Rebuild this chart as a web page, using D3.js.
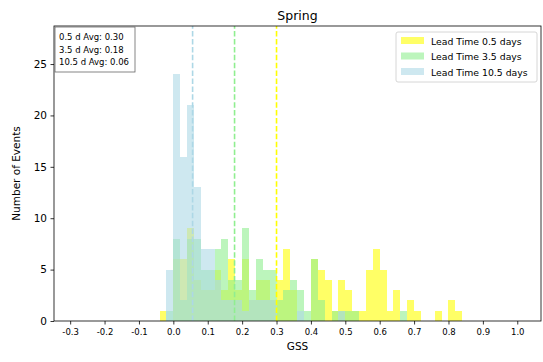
<!DOCTYPE html>
<html>
<head>
<meta charset="utf-8">
<script src="https://cdnjs.cloudflare.com/ajax/libs/d3/7.8.5/d3.min.js"></script>
<style>
  body { margin: 0; background: #fff; }
  text { font-family: "DejaVu Sans", sans-serif; }
</style>
</head>
<body>
<div class="chart"></div>
<script>
// left edge of each 0.02 wide bin
var binStarts = [-0.04, -0.02, 0.00, 0.02, 0.04, 0.06, 0.08, 0.10, 0.12, 0.14, 0.16,
  0.18, 0.20, 0.22, 0.24, 0.26, 0.28, 0.30, 0.32, 0.34, 0.36, 0.38, 0.40,
  0.42, 0.44, 0.46, 0.48, 0.50, 0.52, 0.54, 0.56, 0.58, 0.60, 0.62, 0.64,
  0.66, 0.68, 0.70, 0.72, 0.74, 0.76, 0.78, 0.80, 0.82];
var binWidth = 0.02;

var lead05 = [1, 0, 6, 6, 9, 4, 3, 3, 5, 3, 6, 3, 6, 2, 4, 4, 2, 4, 7, 3, 0, 0, 6,
  5, 4, 1, 4, 3, 1, 1, 5, 7, 5, 1, 3, 0, 2, 1, 0, 0, 1, 0, 2, 1];
var lead35 = [0, 1, 8, 2, 8, 8, 5, 5, 7, 8, 4, 4, 9, 3, 6, 5, 5, 2, 3, 4, 3, 1, 6,
  2, 0, 1, 1, 1, 1, 0, 0, 0, 0, 0, 0, 1, 0, 0, 0, 0, 0, 0, 0, 0];
var lead105 = [0, 5, 24, 16, 21, 13, 7, 7, 4, 2, 2, 2, 1, 2, 2, 2, 2, 0, 0, 0, 1, 0, 0,
  0, 0, 0, 1, 0, 0, 0, 0, 0, 0, 0, 0, 0, 0, 0, 0, 0, 0, 0, 0, 0];

var seriesNames = ["Lead Time 0.5 days", "Lead Time 3.5 days", "Lead Time 10.5 days"];
var avgLabels = ["0.5 d", "3.5 d", "10.5 d"];
var averages = [0.30, 0.178, 0.056];
var colors = ["#ffff00", "#90ee90", "#add8e6"];

var xTicks = [-0.3, -0.2, -0.1, 0.0, 0.1, 0.2, 0.3, 0.4, 0.5, 0.6, 0.7, 0.8, 0.9, 1.0];
var yTicks = [0, 5, 10, 15, 20, 25];

var width = 543, height = 362;
var margin = {left: 54, right: 2, top: 26, bottom: 41};

const svg = d3.select(".chart").append("svg")
  .attr("width", width)
  .attr("height", height);

var x = d3.scaleLinear()
  .domain([-0.347, 1.069])
  .range([margin.left, width - margin.right]);

var y = d3.scaleLinear()
  .domain([0, 28.7])
  .range([height - margin.bottom, margin.top]);

// histograms, drawn in order so the later ones sit on top
var allSeries = [lead05, lead35, lead105];
allSeries.forEach(function(counts, s) {
  svg.append("g").selectAll("rect")
    .data(counts)
    .enter().append("rect")
      .attr("x", function(d, i) { return x(binStarts[i]); })
      .attr("width", function(d, i) { return x(binStarts[i] + binWidth) - x(binStarts[i]); })
      .attr("y", function(d) { return y(d); })
      .attr("height", function(d) { return y(0) - y(d); })
      .attr("fill", colors[s])
      .attr("fill-opacity", 0.6)
      .attr("shape-rendering", "crispEdges");
});

// average lines
svg.append("g").selectAll("line")
  .data(averages)
  .enter().append("line")
    .attr("x1", function(d) { return x(d); })
    .attr("x2", function(d) { return x(d); })
    .attr("y1", y.range()[0])
    .attr("y2", y.range()[1])
    .attr("stroke", function(d, i) { return colors[i]; })
    .attr("stroke-width", 1.6)
    .attr("stroke-dasharray", "5.5,2.4");

// axes
var xAxis = d3.axisBottom(x).tickValues(xTicks).tickSize(3.5).tickPadding(4)
  .tickFormat(d3.format(".1f"));
var yAxis = d3.axisLeft(y).tickValues(yTicks).tickSize(3.5).tickPadding(3.5);

var gx = svg.append("g")
  .attr("transform", "translate(0," + (height - margin.bottom) + ")")
  .call(xAxis);
gx.selectAll("text").attr("font-size", 8.5).attr("fill", "#000")
  .text(function(d) { return d3.format(".1f")(d).replace("\u2212", "-"); });

var gy = svg.append("g")
  .attr("transform", "translate(" + margin.left + ",0)")
  .call(yAxis);
gy.selectAll("text").attr("font-size", 10.5).attr("fill", "#000");

[gx, gy].forEach(function(g) {
  g.select(".domain").remove();
  g.selectAll(".tick line").attr("stroke", "#000").attr("stroke-width", 0.8);
});

// frame
svg.append("rect")
  .attr("x", margin.left)
  .attr("y", margin.top)
  .attr("width", width - margin.left - margin.right)
  .attr("height", height - margin.top - margin.bottom)
  .attr("fill", "none")
  .attr("stroke", "#000")
  .attr("stroke-width", 0.8);

// title and labels
svg.append("text")
  .attr("x", (margin.left + width - margin.right) / 2)
  .attr("y", 20)
  .attr("text-anchor", "middle")
  .attr("font-size", 12.5)
  .text("Spring");

svg.append("text")
  .attr("x", (margin.left + width - margin.right) / 2)
  .attr("y", 350)
  .attr("text-anchor", "middle")
  .attr("font-size", 10.5)
  .text("GSS");

svg.append("text")
  .attr("transform", "translate(20," + ((margin.top + height - margin.bottom) / 2) + ") rotate(-90)")
  .attr("text-anchor", "middle")
  .attr("font-size", 10.5)
  .text("Number of Events");

// averages box
var avgBox = svg.append("g").attr("transform", "translate(55,27)");
avgBox.append("rect")
  .attr("width", 80)
  .attr("height", 45)
  .attr("fill", "#fff")
  .attr("stroke", "#666")
  .attr("stroke-width", 0.8);
avgBox.selectAll("text")
  .data(averages)
  .enter().append("text")
    .attr("x", 4)
    .attr("y", function(d, i) { return 13 + i * 12.5; })
    .attr("font-size", 8.5)
    .text(function(d, i) { return avgLabels[i] + " Avg: " + d.toFixed(2); });

// legend
var legend = svg.append("g").attr("transform", "translate(396,32)");
legend.append("rect")
  .attr("width", 141)
  .attr("height", 50)
  .attr("rx", 2)
  .attr("fill", "#fff")
  .attr("fill-opacity", 0.8)
  .attr("stroke", "#ccc")
  .attr("stroke-width", 0.8);
var items = legend.selectAll("g.item")
  .data(seriesNames)
  .enter().append("g")
    .attr("class", "item")
    .attr("transform", function(d, i) { return "translate(5," + (5 + i * 15.5) + ")"; });
items.append("rect")
  .attr("width", 23)
  .attr("height", 7)
  .attr("fill", function(d, i) { return colors[i]; })
  .attr("fill-opacity", 0.6);
items.append("text")
  .attr("x", 30)
  .attr("y", 7.5)
  .attr("font-size", 9.3)
  .text(function(d) { return d; });
</script>
</body>
</html>
